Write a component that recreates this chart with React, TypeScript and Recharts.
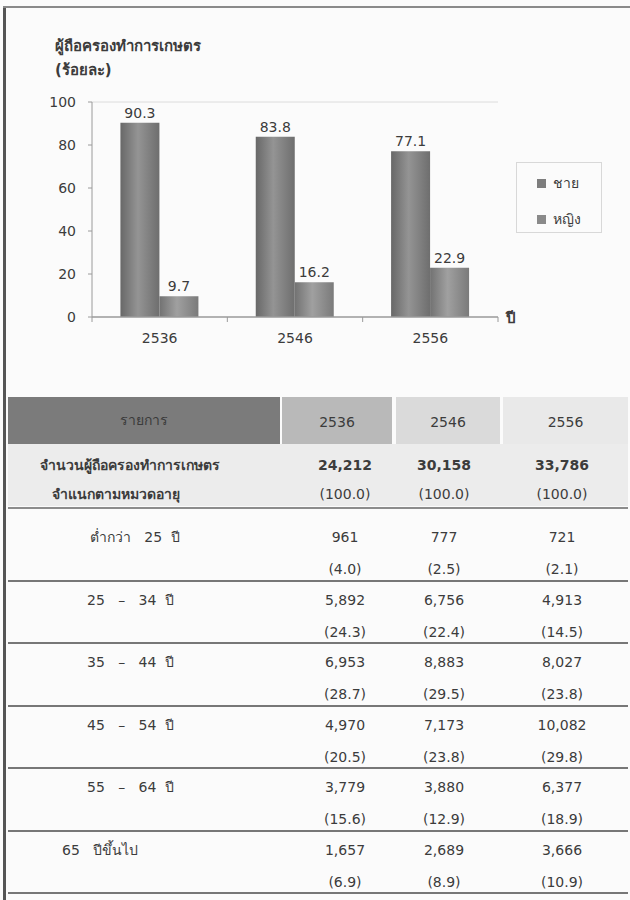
import { BarChart, Bar, XAxis, YAxis, Legend, LabelList, ReferenceLine } from "recharts";

const years = ["2536", "2546", "2556"];
const maleShare = [90.3, 83.8, 77.1];
const femaleShare = [9.7, 16.2, 22.9];
const yTicks = [0, 20, 40, 60, 80, 100];

const totalHolders = [24212, 30158, 33786];
const ageGroups = ["ต่ำกว่า   25  ปี", "25   –   34  ปี", "35   –   44  ปี", "45   –   54  ปี", "55   –   64  ปี", "65   ปีขึ้นไป"];
const holders2536 = [961, 5892, 6953, 4970, 3779, 1657];
const holders2546 = [777, 6756, 8883, 7173, 3880, 2689];
const holders2556 = [721, 4913, 8027, 10082, 6377, 3666];
const pct2536 = [4.0, 24.3, 28.7, 20.5, 15.6, 6.9];
const pct2546 = [2.5, 22.4, 29.5, 23.8, 12.9, 8.9];
const pct2556 = [2.1, 14.5, 23.8, 29.8, 18.9, 10.9];

const chartData = years.map((y, i) => ({ year: y, male: maleShare[i], female: femaleShare[i] }));

const FONT = "Tahoma, 'DejaVu Sans', 'Noto Sans', sans-serif";
const INK = "#3c3c3c";
const AXIS = "#9a9a9a";
const X_TICK_GAP = 16;

const fmt = (n: number) => n.toLocaleString("en-US");
const pct = (n: number) => `(${n.toFixed(1)})`;

const colCenters = [345, 444, 562];

// x tick: label in the middle of the band, tick marks on the band edges
function YearTick(props: any) {
  const { x, y, payload, index, visibleTicksCount } = props;
  const half = payload?.offset ?? 0;
  const axisY = y - X_TICK_GAP;
  const last = index === visibleTicksCount - 1;
  return (
    <g>
      <line x1={x - half} x2={x - half} y1={axisY} y2={axisY + 5} stroke={AXIS} />
      {last && <line x1={x + half} x2={x + half} y1={axisY} y2={axisY + 5} stroke={AXIS} />}
      <text x={x} y={y} dy="0.71em" textAnchor="middle" fill={INK} fontSize={14} fontFamily={FONT}>
        {payload.value}
      </text>
    </g>
  );
}

function LegendBox() {
  const items = [
    { label: "ชาย", color: "#7d7d7d" },
    { label: "หญิง", color: "#8a8a8a" },
  ];
  return (
    <div style={{ border: "1px solid #d8d8d8", width: 86, height: 71, boxSizing: "border-box", paddingTop: 2, paddingLeft: 20 }}>
      {items.map((it) => (
        <div key={it.label} style={{ display: "flex", alignItems: "center", height: 36, fontFamily: FONT, fontSize: 14, color: INK }}>
          <span style={{ width: 9, height: 9, background: it.color, marginRight: 7, display: "inline-block" }} />
          <span>{it.label}</span>
        </div>
      ))}
    </div>
  );
}

function ValueCells({ values, bold }: { values: string[]; bold?: boolean }) {
  return (
    <>
      {values.map((v, i) => (
        <span
          key={i}
          style={{ position: "absolute", left: colCenters[i] - 8 - 60, width: 120, textAlign: "center", fontWeight: bold ? "bold" : "normal" }}
        >
          {v}
        </span>
      ))}
    </>
  );
}

export default function App() {
  const rowTops: number[] = [];
  let t = 113;
  ageGroups.forEach((_, i) => {
    rowTops.push(t);
    t += i === 0 ? 72 : 62.4;
  });

  return (
    <div style={{ position: "absolute", left: 0, top: 0, width: 630, height: 900, background: "#fbfbfb", overflow: "hidden", fontFamily: FONT }}>
      {/* frame */}
      <div style={{ position: "absolute", left: 3, top: 7, width: 3, height: 893, background: "#555" }} />
      <div style={{ position: "absolute", left: 3, top: 6, width: 627, height: 2, background: "#8a8a8a" }} />

      {/* chart title */}
      <div style={{ position: "absolute", left: 55, top: 34, fontSize: 15, fontWeight: "bold", color: INK, lineHeight: "24px" }}>
        ผู้ถือครองทำการเกษตร
        <br />
        (ร้อยละ)
      </div>

      <div style={{ position: "absolute", left: 0, top: 0 }}>
        <BarChart width={630} height={370} data={chartData} margin={{ top: 102, right: 132, bottom: 23, left: 42 }} barGap={0} barCategoryGap="21%">
          <defs>
            <linearGradient id="gMale" x1="0" y1="0" x2="1" y2="0">
              <stop offset="0" stopColor="#686868" />
              <stop offset="0.45" stopColor="#949494" />
              <stop offset="1" stopColor="#6e6e6e" />
            </linearGradient>
            <linearGradient id="gFemale" x1="0" y1="0" x2="1" y2="0">
              <stop offset="0" stopColor="#727272" />
              <stop offset="0.45" stopColor="#a0a0a0" />
              <stop offset="1" stopColor="#7a7a7a" />
            </linearGradient>
          </defs>
          <XAxis
            dataKey="year"
            height={30}
            tickLine={false}
            tickSize={0}
            axisLine={{ stroke: AXIS, strokeWidth: 1.5 }}
            tickMargin={X_TICK_GAP}
            tick={<YearTick />}
          />
          <YAxis
            width={50}
            domain={[0, 100]}
            ticks={yTicks}
            tickSize={4}
            tickMargin={12}
            axisLine={{ stroke: AXIS }}
            tickLine={{ stroke: AXIS }}
            tick={{ fill: INK, fontSize: 14, fontFamily: FONT }}
          />
          <YAxis yAxisId="frame" orientation="right" width={0} tick={false} axisLine={{ stroke: "#dcdcdc" }} tickLine={false} />
          <ReferenceLine y={100} stroke="#dcdcdc" />
          <Legend
            layout="horizontal"
            verticalAlign="middle"
            align="center"
            content={() => <LegendBox />}
            wrapperStyle={{ left: 516, top: 162, width: 86, height: 71 }}
          />
          <Bar dataKey="male" name="ชาย" fill="url(#gMale)" isAnimationActive={false}>
            <LabelList dataKey="male" position="top" offset={5} fill={INK} fontSize={14} fontFamily={FONT} />
          </Bar>
          <Bar dataKey="female" name="หญิง" fill="url(#gFemale)" isAnimationActive={false}>
            <LabelList dataKey="female" position="top" offset={5} fill={INK} fontSize={14} fontFamily={FONT} />
          </Bar>
        </BarChart>
      </div>

      <div style={{ position: "absolute", left: 506, top: 306, fontSize: 15, fontWeight: "bold", color: INK }}>ปี</div>

      {/* table */}
      <div style={{ position: "absolute", left: 8, top: 397, width: 620, height: 500, fontSize: 14, color: INK }}>
        {/* header */}
        <div style={{ position: "absolute", left: 0, top: 0, width: 272, height: 47, background: "#7b7b7b", color: "#3a3a3a", textAlign: "center", lineHeight: "47px" }}>
          รายการ
        </div>
        {years.map((y, i) => {
          const lefts = [274, 388, 495];
          const widths = [110, 104, 125];
          const bgs = ["#b9b9b9", "#dadada", "#e9e9e9"];
          return (
            <div key={y} style={{ position: "absolute", left: lefts[i], top: 0, width: widths[i], height: 47, background: bgs[i], textAlign: "center", lineHeight: "50px" }}>
              {y}
            </div>
          );
        })}

        {/* summary row */}
        <div style={{ position: "absolute", left: 0, top: 47, width: 620, height: 62, background: "#ececec" }}>
          <div style={{ position: "absolute", top: 7, left: 0, width: 620, height: 29, lineHeight: "29px" }}>
            <span style={{ position: "absolute", left: 32, fontWeight: "bold" }}>จำนวนผู้ถือครองทำการเกษตร</span>
            <ValueCells values={totalHolders.map(fmt)} bold />
          </div>
          <div style={{ position: "absolute", top: 36, left: 0, width: 620, height: 29, lineHeight: "29px" }}>
            <span style={{ position: "absolute", left: 44, fontWeight: "bold" }}>จำแนกตามหมวดอายุ</span>
            <ValueCells values={["(100.0)", "(100.0)", "(100.0)"]} />
          </div>
        </div>
        <div style={{ position: "absolute", left: 0, top: 110, width: 620, height: 2, background: "#8c8c8c" }} />

        {/* age rows */}
        {ageGroups.map((g, i) => {
          const top = rowTops[i];
          const h = i === 0 ? 72 : 62.4;
          const pad = i === 0 ? 11 : 2;
          const indent = i === 0 ? 82 : i === ageGroups.length - 1 ? 54 : 79;
          return (
            <div key={g} style={{ position: "absolute", left: 0, top, width: 620, height: h }}>
              <div style={{ position: "absolute", top: pad, left: 0, width: 620, height: 32, lineHeight: "32px" }}>
                <span style={{ position: "absolute", left: indent, whiteSpace: "pre" }}>{g}</span>
                <ValueCells values={[holders2536[i], holders2546[i], holders2556[i]].map(fmt)} />
              </div>
              <div style={{ position: "absolute", top: pad + 32, left: 0, width: 620, height: 32, lineHeight: "32px" }}>
                <ValueCells values={[pct2536[i], pct2546[i], pct2556[i]].map(pct)} />
              </div>
              <div style={{ position: "absolute", left: 0, top: h - 2, width: 620, height: 2, background: "#777" }} />
            </div>
          );
        })}
      </div>
    </div>
  );
}
